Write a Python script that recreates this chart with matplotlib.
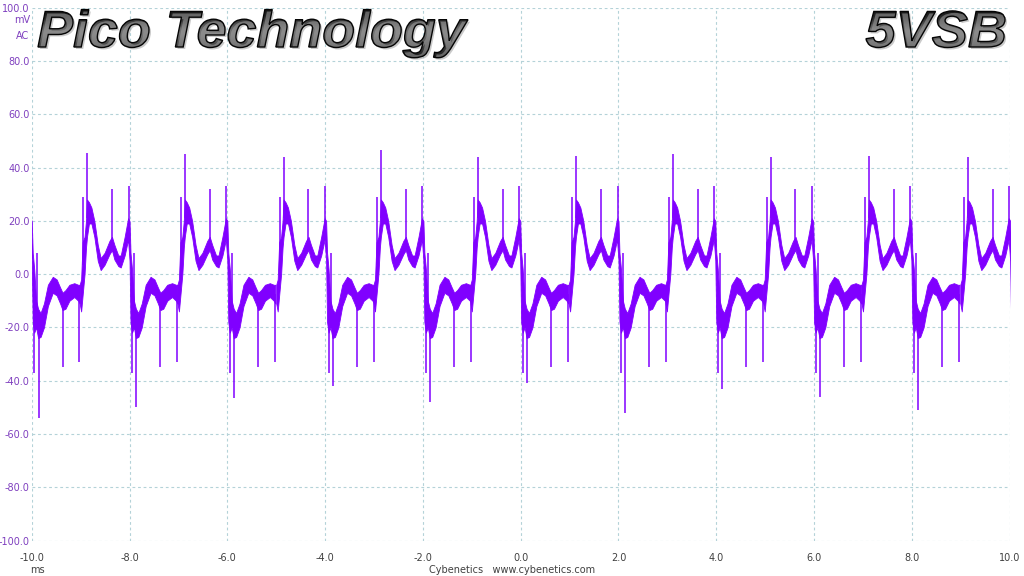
import matplotlib
matplotlib.use("Agg")
import matplotlib.pyplot as plt
from matplotlib.font_manager import FontProperties
from matplotlib.patches import PathPatch
from matplotlib.textpath import TextPath
from matplotlib.transforms import Affine2D
import numpy as np

# shape of one switching cycle, phase in ms after the main positive spike
phase = [-0.15, -0.12, -0.09, -0.05, -0.02, 0.00, 0.04, 0.09, 0.15, 0.22, 0.28,
         0.36, 0.46, 0.51, 0.56, 0.64, 0.69, 0.77, 0.84, 0.87, 0.89, 0.92, 0.96,
         1.00, 1.05, 1.12, 1.20, 1.30, 1.38, 1.45, 1.50, 1.56, 1.64, 1.74, 1.82, 1.85]
band_hi = [-4, -2, 12, 14, 20, 28, 27, 25, 20, 11, 6,
           8, 12.5, 14, 11, 7, 7, 14, 21, 20, 8, 2, -10,
           -13, -14.6, -11, -4, -1, -2, -5, -7, -6, -4, -3.4, -4, -4]
band_lo = [-11, -14, -8, 0, 10, 14, 19, 19, 14, 5, 1.5,
           3.5, 7.5, 9, 5.5, 3, 2.5, 7, 13, 5, -18, -22, -20,
           -24, -23.6, -20, -12, -7, -8, -11, -13.5, -13, -10, -8.6, -10, -11]

# thin spikes inside every cycle
spike_phase = [-0.08, 0.51, 0.85, 0.92, 0.97, 1.50, 1.84]
spike_val = [29, 32, 33, -37, 8, -35, -33]

# main positive spike time of each cycle, its height and the deep negative spike
cycle_t0 = [-10.87, -8.87, -6.87, -4.85, -2.86, -0.88, 1.13, 3.11, 5.11, 7.12, 9.14]
cycle_peak = [45, 45.5, 45, 44, 46.5, 44, 44.5, 45, 44, 44.5, 44]
cycle_dip = [-54, -50, -46.5, -42, -48, -41, -52, -43, -46, -51, -45]
dip_phase = 1.01

x_ticks = [-10, -8, -6, -4, -2, 0, 2, 4, 6, 8, 10]
y_ticks = [-100, -80, -60, -40, -20, 0, 20, 40, 60, 80, 100]

trace = "#8000ff"
W, H = 1024, 576

fig = plt.figure(figsize=(10.24, 5.76), dpi=100)
ax = fig.add_axes([0.031, 0.0616, 0.955, 0.925])

ph = np.array(phase)
mid = (np.array(band_hi) + np.array(band_lo)) / 2
for t0, pk, dp in zip(cycle_t0, cycle_peak, cycle_dip):
    t = t0 + ph
    ax.fill_between(t, band_lo, band_hi, color=trace, lw=0.6, edgecolor=trace)
    st = [t0 + p for p in spike_phase] + [t0, t0 + dip_phase]
    sv = spike_val + [pk, dp]
    base = np.interp(st, t, mid)
    ax.vlines(st, base, sv, color=trace, lw=1.1)

ax.set_xlim(-10, 10)
ax.set_ylim(-100, 100)
ax.set_xticks(x_ticks)
ax.set_xticklabels([f"{v:.1f}" for v in x_ticks], fontsize=7, color="#404040")
ax.set_yticks(y_ticks)
ax.set_yticklabels([f"{v:.1f}" for v in y_ticks], fontsize=7, color="#7f3fbf")
ax.tick_params(axis="x", length=0, pad=9)
ax.tick_params(axis="y", length=0, pad=1.5)
for s in ax.spines.values():
    s.set_visible(False)
ax.grid(True, color="#b4d2d8", lw=0.8, ls=(0, (2.5, 2.5)))
ax.set_axisbelow(True)

fig.text(0.022, 0.965, "mV", fontsize=7, color="#7f3fbf", ha="center", va="center")
fig.text(0.022, 0.937, "AC", fontsize=7, color="#7f3fbf", ha="center", va="center")
fig.text(0.037, 0.010, "ms", fontsize=7, color="#404040", ha="center", va="center")
fig.text(0.5, 0.010, "Cybenetics   www.cybenetics.com", fontsize=7,
         color="#404040", ha="center", va="center")

# overlay in pixel coordinates for the metallic headings
ov = fig.add_axes([0, 0, 1, 1], facecolor="none")
ov.set_xlim(0, W)
ov.set_ylim(0, H)
ov.axis("off")

title_font = FontProperties(family="Liberation Sans", style="italic", weight="bold")
shade = np.array([0.08, 0.15, 0.32, 0.48, 0.40, 0.28, 0.18, 0.10])[:, None]


def metal_text(txt, left, right, baseline, cap=37):
    tp = TextPath((0, 0), txt, size=cap / 0.716, prop=title_font)
    ext = tp.get_extents()
    sx = (right - left) / ext.width
    tr = Affine2D().translate(-ext.x0, 0).scale(sx, 1).translate(left, H - baseline)
    path = tr.transform_path(tp)
    top = H - baseline + cap + 2
    bot = H - baseline - 14
    shadow = PathPatch(path, transform=Affine2D().translate(2, -2) + ov.transData,
                       fc="#a0a0a0", ec="none", alpha=0.55)
    ov.add_patch(shadow)
    body = PathPatch(path, transform=ov.transData, fc="none", ec="#050505", lw=1.0)
    im = ov.imshow(shade, cmap="gray", vmin=0, vmax=1, aspect="auto",
                   extent=[left - 5, right + 5, bot, top], interpolation="bicubic",
                   origin="upper")
    ov.add_patch(body)
    im.set_clip_path(body)


metal_text("Pico Technology", 38, 468, 47)
metal_text("5VSB", 866, 1005, 47)
ov.set_xlim(0, W)
ov.set_ylim(0, H)

fig.savefig("out.png", dpi=100)
